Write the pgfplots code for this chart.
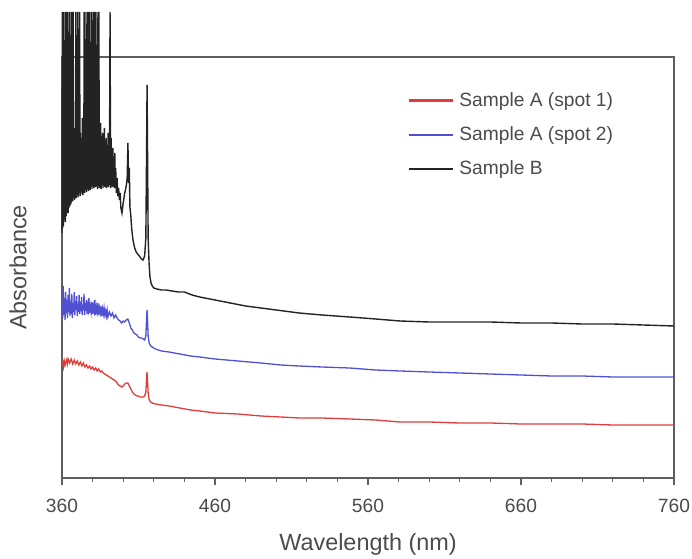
\documentclass[border=0pt]{standalone}
\usepackage{pgfplots}
\pgfplotsset{compat=1.18}
\usepackage{fontspec}
\setmainfont{Liberation Sans}
\definecolor{redline}{RGB}{225,60,60}
\definecolor{blueline}{RGB}{80,80,210}
\definecolor{blackline}{RGB}{35,35,35}
\definecolor{framegray}{RGB}{95,95,95}
\definecolor{textgray}{RGB}{75,75,75}
\begin{document}
\begin{tikzpicture}
\useasboundingbox (-31pt,-40pt) rectangle (315pt,239pt);
\begin{axis}[
    scale only axis,
    width=306pt, height=210.5pt,
    xmin=360, xmax=760,
    ymin=0, ymax=421,
    clip=false,
    xtick={360,460,560,660,760},
    minor x tick num=4,
    ytick=\empty,
    xtick pos=left,
    tick align=outside,
    major tick length=3.5pt,
    minor tick length=2pt,
    axis line style={framegray, line width=0.7pt},
    every tick/.style={framegray, line width=0.6pt},
    tick label style={font=\fontsize{9.6}{11}\selectfont, text=textgray},
    /pgf/number format/assume math mode=true,
    xticklabel style={yshift=-3.5pt},
    xlabel={Wavelength (nm)},
    ylabel={Absorbance},
    label style={font=\fontsize{11.7}{13}\selectfont, text=textgray},
    x label style={at={(axis description cs:0.5,-0.159)}, anchor=center},
    y label style={at={(axis description cs:-0.072,0.5)}, anchor=center},
    legend style={draw=none, fill=none, at={(0.565,0.927)}, anchor=north west,
        font=\color{textgray}\fontsize{9.6}{11}\selectfont,
        row sep=4.6pt, inner sep=0pt,
        nodes={inner xsep=2.5pt}},
    legend cell align=left,
    legend image code/.code={\draw[#1] (0pt,0pt) -- (22pt,0pt);},
    legend image post style={line width=1.1pt},
]
% Sample A (spot 1)
\addplot[redline, line width=0.65pt] coordinates {
(360,113) (360.5,116) (361,111) (361.5,117) (362,113) (363,118) (363.5,114) (364,119)
(365,115) (366,119) (367,114) (368,118) (369,114) (370,117) (371,113) (372,116)
(373,112) (374,115) (375,111) (376,113) (377,110) (378,112) (379,109) (380,111)
(381,108) (382,110) (383,107) (384,109) (385,106) (386,107) (387,105) (388,104)
(389,103) (390,102) (391,101) (392,100) (393,99) (394,98) (395,97) (396,95)
(397,93) (398,92) (399,91) (400,92) (401,94) (402,95) (403,95) (404,92)
(405,89) (406,86) (407,84) (408,83) (409,82) (410,82) (411,81) (412,81)
(413,81) (414,82) (414.8,86) (415.3,100) (415.6,106) (415.9,98) (416.3,85)
(417,78) (418,76) (419,75) (421,74) (425,73) (430,72) (437,70) (444,68)
(450,67) (460,65) (475,64) (490,62) (503,61) (515,60) (530,60) (548,59)
(565,58) (581,56) (600,56) (620,55) (640,55) (660,54) (680,54) (700,54)
(720,53) (740,53) (760,53)
};
\addlegendentry{Sample A (spot 1)}
% Sample A (spot 2)
\addplot[blueline, line width=0.65pt] coordinates {
(360.0,175) (360.4,160) (360.8,192) (361.2,163) (361.6,180) (362.0,158) (362.4,186)
(362.8,165) (363.2,178) (363.6,160) (364.0,183) (364.4,166) (364.8,190) (365.2,162)
(365.6,176) (366.0,164) (366.4,184) (366.8,160) (367.2,175) (367.6,166) (368.0,186)
(368.4,163) (368.8,177) (369.2,168) (369.6,182) (370.0,162) (370.4,174) (370.8,166)
(371.2,183) (371.6,164) (372.0,176) (372.4,167) (372.8,181) (373.2,163) (373.6,173)
(374.0,168) (374.4,184) (374.8,163) (375.2,175) (375.6,167) (376.0,178) (376.4,164)
(376.8,172) (377.2,168) (377.6,180) (378.0,165) (378.5,172) (379.0,166) (379.5,176)
(380.0,164) (380.5,172) (381.0,167) (381.5,178) (382.0,163) (382.5,171) (383.0,166)
(383.5,175) (384.0,163) (384.5,170) (385.0,165) (385.5,172) (386.0,162) (386.5,169)
(387.0,164) (387.5,170) (388.0,163) (388.5,167) (389.0,162) (389.5,168) (390.0,161)
(391.0,166) (392.0,162) (393.0,165) (394.0,160) (395.0,163) (396.0,160) (397.0,158)
(398.0,157) (399.0,155) (400.0,157) (401.0,156) (402.0,158) (403.0,159) (404.0,155)
(405.0,150) (406.0,148) (407.0,145) (408.0,144) (409.0,143) (410.0,141) (411.0,140)
(412.0,140) (413.0,139) (414.0,138) (414.8,142) (415.3,160) (415.6,168) (415.9,158)
(416.3,142) (417.0,135) (418.0,132) (419.0,131) (421.0,129) (425.0,127) (430.0,126)
(437.0,124) (444.0,122) (450.0,121) (460.0,119) (475.0,117) (490.0,115) (503.0,113)
(515.0,112) (530.0,111) (548.0,110) (565.0,108) (581.0,107) (600.0,106) (620.0,105)
(640.0,104) (660.0,103) (680.0,102) (700.0,102) (720.0,101) (740.0,101) (760.0,101)
};
\addlegendentry{Sample A (spot 2)}
% Sample B
\addplot[blackline, line width=0.7pt] coordinates {
(360.0,245) (360.2,466) (360.4,250) (360.7,340) (361.0,252) (361.3,466) (361.6,258)
(361.9,330) (362.2,256) (362.5,466) (362.8,262) (363.1,345) (363.4,266) (363.7,466)
(364.0,265) (364.3,320) (364.6,270) (364.9,466) (365.2,272) (365.5,350) (365.8,274)
(366.1,466) (366.4,276) (366.7,335) (367.0,277) (367.3,466) (367.6,280) (367.9,325)
(368.2,278) (368.5,350) (368.8,282) (369.1,466) (369.4,280) (369.7,340) (370.0,283)
(370.3,466) (370.6,281) (370.9,330) (371.2,285) (371.5,466) (371.8,282) (372.1,345)
(372.4,284) (372.7,320) (373.0,286) (373.3,360) (373.6,283) (373.9,330) (374.2,287)
(374.5,466) (374.8,285) (375.1,340) (375.4,288) (375.7,466) (376.0,286) (376.3,325)
(376.6,289) (376.9,466) (377.2,287) (377.5,350) (377.8,290) (378.1,466) (378.4,288)
(378.7,330) (379.0,291) (379.3,466) (379.6,289) (379.9,345) (380.2,292) (380.5,466)
(380.8,290) (381.1,335) (381.4,293) (381.7,466) (382.0,291) (382.3,320) (382.6,292)
(382.9,466) (383.2,289) (383.5,340) (383.8,292) (384.1,466) (384.4,290) (384.7,330)
(385.0,292) (385.3,355) (385.6,289) (385.9,320) (386.2,293) (386.5,345) (386.8,290)
(387.1,330) (387.4,292) (387.7,350) (388.0,291) (388.3,325) (388.6,293) (388.9,340)
(389.2,290) (389.5,320) (389.8,292) (390.1,345) (390.4,291) (390.7,330) (391.0,293)
(391.4,466) (391.8,290) (392.1,340) (392.4,292) (392.7,320) (393.0,291) (393.3,330)
(393.6,292) (393.9,315) (394.2,290) (394.5,325) (394.8,291) (395.1,310) (395.5,285)
(396.0,300) (396.5,282) (397.0,290) (397.5,278) (398.0,285) (398.5,270) (399.2,265)
(400.0,275) (401.0,285) (402.0,292) (402.6,300) (403.1,335) (403.5,295) (404.0,310)
(404.4,271) (405.0,262) (405.5,250) (406.4,238) (407.5,230) (408.5,226) (409.5,224)
(411.0,221) (412.0,219) (413.0,218) (414.0,222) (414.8,240) (415.3,330) (415.6,393)
(415.9,330) (416.3,240) (416.9,215) (417.5,201) (418.2,195) (419.0,192) (420.0,190)
(422.0,189) (425.0,188) (428.0,188) (432.0,187) (436.0,186) (440.0,186) (445.0,183)
(450.0,181) (460.0,178) (470.0,175) (480.0,172) (490.0,170) (500.0,168) (515.0,165)
(530.0,163) (548.0,161) (565.0,159) (581.0,157) (600.0,156) (620.0,156) (640.0,156)
(660.0,155) (680.0,155) (700.0,154) (720.0,154) (740.0,153) (760.0,152)
};
\addlegendentry{Sample B}
\end{axis}
\end{tikzpicture}
\end{document}
